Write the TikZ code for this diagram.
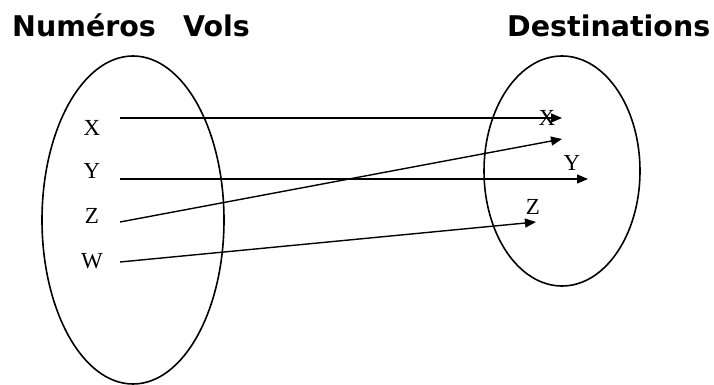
\documentclass[tikz,border=0pt]{standalone}
\usepackage{fontspec}
\setmainfont{Liberation Serif}
\newfontfamily\titlefont{DejaVu Sans}
\usepackage{tikz}
\usepackage{xcolor}
\usetikzlibrary{arrows.meta,positioning,calc}

\begin{document}
\begin{tikzpicture}[x=1pt, y=-1pt,
        elt/.style={font=\fontsize{23}{23}\selectfont, inner sep=0pt},
        titre/.style={font=\titlefont\bfseries\fontsize{28.5}{28.5}\selectfont, inner sep=0pt, anchor=base west},
        fleche/.style={line width=1.4pt, -{Triangle[length=11pt,width=9pt]}}]
        \useasboundingbox (0,0) rectangle (714,385);

        % titres
        \node[titre] (vols) at (12,37) {Numéros\hspace*{0.95em}Vols};
        \node[titre] (dest) at (507,37) {Destinations};

        % ensembles
        \draw[line width=1.6pt] (133,220) ellipse (91 and 164);
        \draw[line width=1.6pt] (562,171) ellipse (78 and 115);

        % elements de depart
        \foreach \n/\y in {X/128, Y/171, Z/216, W/261} {
            \node[elt] (g\n) at (92,\y) {\n};
        }
        % elements d'arrivee
        \node[elt] (dX) at (547,118) {X};
        \node[elt] (dY) at (572,163) {Y};
        \node[elt] (dZ) at (533,207) {Z};

        \coordinate (sX) at (120,118);
        \coordinate (sY) at (120,179);
        \coordinate (sZ) at (120,222);
        \coordinate (sW) at (120,262);
        \coordinate (eX) at (562,118);
        \coordinate (eZ) at (562,139);
        \coordinate (eY) at (588,179);
        \coordinate (eW) at (536,222);

        \draw[fleche] (sX) -- (eX);
        \draw[fleche] (sY) -- (eY);
        \draw[fleche] (sZ) -- (eZ);
        \draw[fleche] (sW) -- (eW);
\end{tikzpicture}
\end{document}
